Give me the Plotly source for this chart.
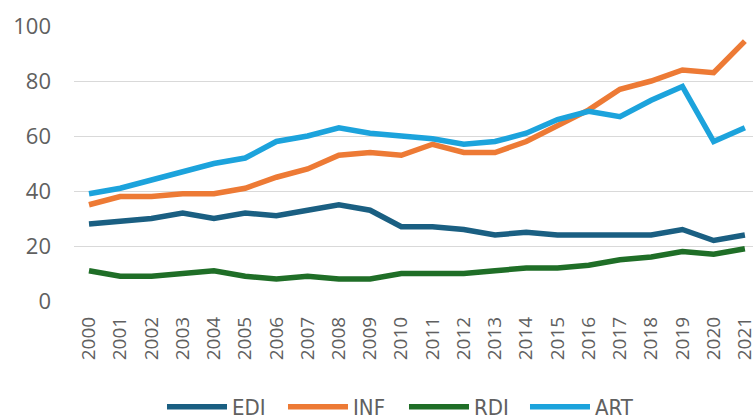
import plotly.graph_objects as go

years = list(range(2000, 2022))
edi = [28, 29, 30, 32, 30, 32, 31, 33, 35, 33, 27, 27, 26, 24, 25, 24, 24, 24, 24, 26, 22, 24]
inf = [35, 38, 38, 39, 39, 41, 45, 48, 53, 54, 53, 57, 54, 54, 58, 64, 69.5, 77, 80, 84, 83, 94.5]
rdi = [11, 9, 9, 10, 11, 9, 8, 9, 8, 8, 10, 10, 10, 11, 12, 12, 13, 15, 16, 18, 17, 19]
art = [39, 41, 44, 47, 50, 52, 58, 60, 63, 61, 60, 59, 57, 58, 61, 66, 69, 67, 73, 78, 58, 63]

series = [("EDI", edi, "#1a5f82"), ("INF", inf, "#ed7a35"),
          ("RDI", rdi, "#1f6e27"), ("ART", art, "#1ca3dc")]

fig = go.Figure()
for name, vals, col in series:
    fig.add_trace(go.Scatter(x=years, y=vals, name=name, mode="lines",
                             line=dict(color=col, width=5.5)))

fig.update_layout(
    width=753, height=420,
    margin=dict(l=74, r=0, t=26, b=119, autoexpand=False),
    paper_bgcolor="white", plot_bgcolor="white",
    font=dict(family="Open Sans", color="#606060"),
    showlegend=True,
    legend=dict(orientation="h", x=0.486, xanchor="center", y=-0.385, yanchor="middle",
                font=dict(size=22, family="DejaVu Sans Condensed, Open Sans",
                          color="#606060"),
                itemwidth=60, tracegroupgap=0, entrywidth=46,
                entrywidthmode="pixels"),
    xaxis=dict(range=[1999.52, 2021.26], tickmode="array", tickvals=years,
               ticktext=[str(y) for y in years], tickangle=-90,
               tickfont=dict(size=19), showgrid=False, zeroline=False,
               showline=False, ticks="", ticklabelstandoff=11,
               ticklabeloverflow="allow", automargin=False),
    yaxis=dict(range=[0, 100], tickvals=[0, 20, 40, 60, 80, 100],
               tickfont=dict(size=22), showgrid=True, gridcolor="#d9d9d9",
               gridwidth=1.2, zeroline=False, showline=False, ticks="",
               ticklabelstandoff=22, automargin=False),
)

fig.write_html("out.html", config={"displayModeBar": False},
               post_script="document.body.style.margin='0px';")
